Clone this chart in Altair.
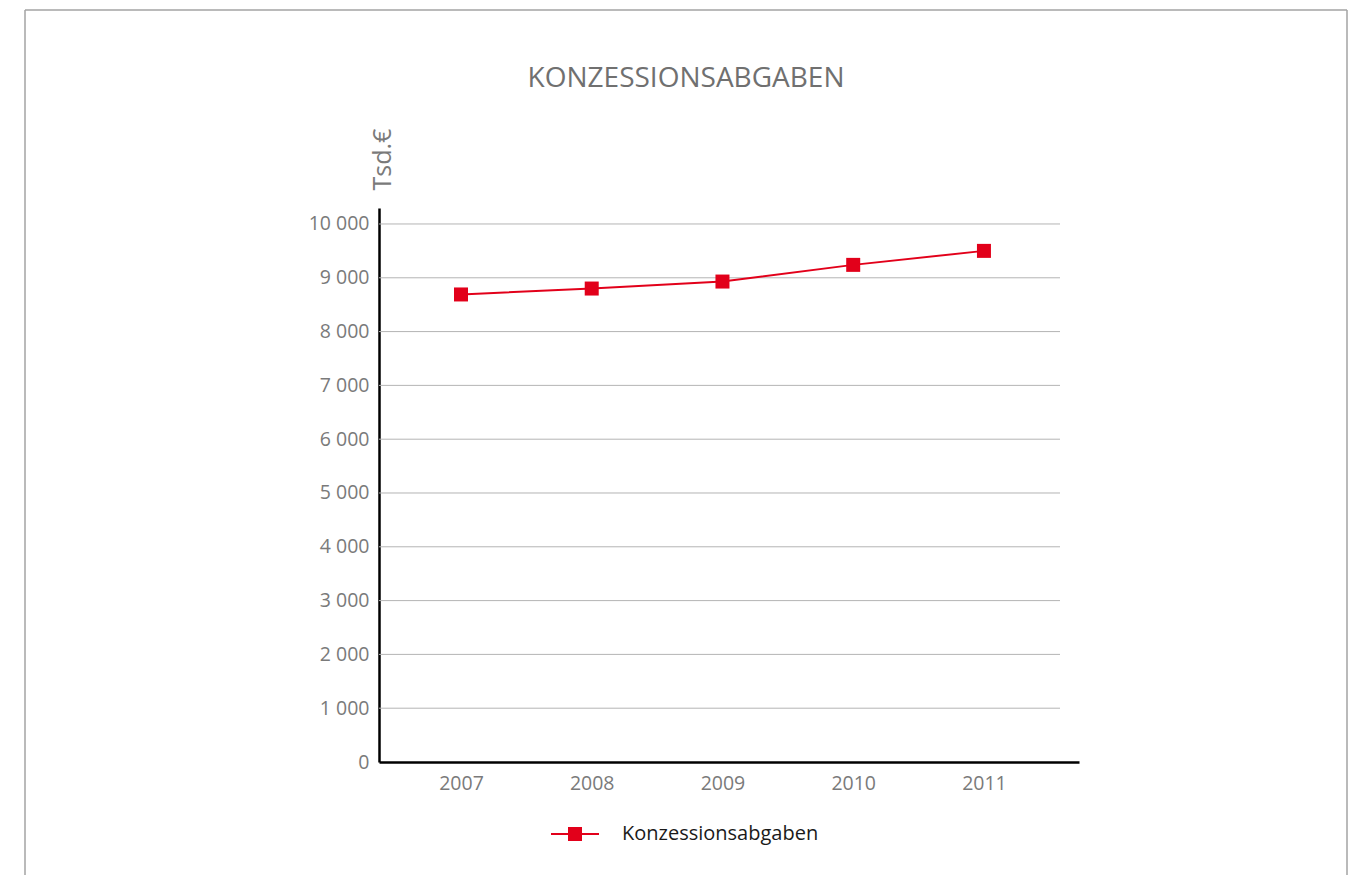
import altair as alt
import pandas as pd

years = [2007, 2008, 2009, 2010, 2011]
values = [8690, 8800, 8930, 9240, 9500]
series = ["Konzessionsabgaben"] * 5
grid_ticks = [1000, 2000, 3000, 4000, 5000, 6000, 7000, 8000, 9000, 10000]
y_ticks = [0, 1000, 2000, 3000, 4000, 5000, 6000, 7000, 8000, 9000, 10000]

RED = "#e2001a"
GRAY = "#7a7a7a"
FONT = "Open Sans"

df = pd.DataFrame({"Jahr": years, "Wert": values, "Serie": series})
grid_df = pd.DataFrame({"g": grid_ticks})
one = pd.DataFrame({"a": [0]})

W, H = 700, 554
xscale = alt.Scale(domain=[2006.373, 2011.727], nice=False, zero=False)
yscale = alt.Scale(domain=[0, 10297], nice=False)

x_enc = alt.X(
    "Jahr:Q", scale=xscale, title=None,
    axis=alt.Axis(values=years, format="d", grid=False, ticks=False,
                  domainColor="black", domainWidth=2.5, labelColor=GRAY,
                  labelFontSize=19.5, labelFont=FONT, labelPadding=12),
)
y_enc = alt.Y(
    "Wert:Q", scale=yscale, title="Tsd.€",
    axis=alt.Axis(values=y_ticks, grid=False, ticks=False,
                  domainColor="black", domainWidth=2.5, labelColor=GRAY,
                  labelFontSize=19.5, labelFont=FONT, labelPadding=10,
                  labelExpr="replace(format(datum.value, ','), ',', ' ')",
                  titleAngle=270, titleX=11, titleY=-49, titleAlign="center",
                  titleBaseline="alphabetic", titleFontSize=25,
                  titleFont=FONT, titleFontWeight="normal", titleColor=GRAY),
)

grid = alt.Chart(grid_df).mark_rule(color="#b4b4b4", strokeWidth=1).encode(
    y=alt.Y("g:Q", scale=yscale),
    x=alt.value(0), x2=alt.value(681),
)

line = alt.Chart(df).mark_line(color=RED, strokeWidth=2).encode(x=x_enc, y=y_enc)

pts = alt.Chart(df).mark_square(size=196, filled=True, opacity=1).encode(
    x="Jahr:Q", y="Wert:Q",
    color=alt.Color(
        "Serie:N", scale=alt.Scale(range=[RED]), title=None,
        legend=alt.Legend(
            orient="none", legendX=171, legendY=601, padding=0,
            symbolType="M-1,0L1,0M-0.25,-0.25L0.25,-0.25L0.25,0.25L-0.25,0.25Z",
            symbolSize=2304, symbolStrokeColor=RED, symbolStrokeWidth=2,
            symbolOpacity=1, labelOffset=22, labelFontSize=20,
            labelFont=FONT, labelColor="#1a1a1a", labelLimit=400,
        ),
    ),
)

bc = "#a3a3a3"
top_b = alt.Chart(one).mark_rule(color=bc, strokeWidth=1.5).encode(
    x=alt.value(-354), x2=alt.value(968), y=alt.value(-198))
left_b = alt.Chart(one).mark_rule(color=bc, strokeWidth=1.5).encode(
    x=alt.value(-354), y=alt.value(-198), y2=alt.value(667))
right_b = alt.Chart(one).mark_rule(color=bc, strokeWidth=1.5).encode(
    x=alt.value(968), y=alt.value(-198), y2=alt.value(667))

chart = alt.layer(top_b, left_b, right_b, grid, line, pts).properties(
    width=W, height=H,
    title=alt.Title("KONZESSIONSABGABEN", fontSize=28, font=FONT,
                    fontWeight="normal", color="#707070", anchor="middle",
                    dx=-43, offset=-84),
    autosize=alt.AutoSizeParams(type="none"),
    padding={"left": 371, "top": 200, "right": 276, "bottom": 113},
).configure_view(stroke=None)

chart.save("out.html", embed_options={"renderer": "svg", "actions": False})
